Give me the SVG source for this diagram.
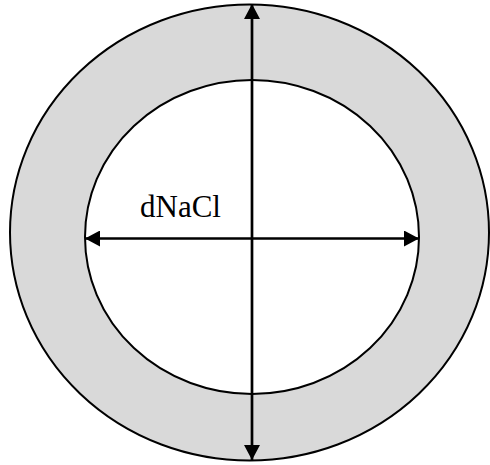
<svg xmlns="http://www.w3.org/2000/svg" width="490" height="465" viewBox="0 0 490 465">
<style>
.ring{stroke:#000;stroke-width:2}
.line{stroke:#000;stroke-width:2.7;fill:none}
.lbl{font-family:"Liberation Serif","Times New Roman",serif;font-size:31px;fill:#000}
</style>
<defs>
<marker id="ah" viewBox="0 0 15 16" refX="15" refY="8" markerWidth="15" markerHeight="16" markerUnits="userSpaceOnUse" orient="auto-start-reverse">
<path d="M0,0 L15,8 L0,16 Z" fill="#000"/>
</marker>
</defs>
<rect width="490" height="465" fill="#fff"/>
<g id="outer"><ellipse class="ring" cx="249.5" cy="232.5" rx="239.5" ry="228" fill="#d9d9d9"/></g>
<g id="inner"><ellipse class="ring" cx="252" cy="237" rx="167" ry="157" fill="#fff"/></g>
<g id="connectors">
<line class="line" x1="252" y1="4" x2="252" y2="460" marker-start="url(#ah)" marker-end="url(#ah)"/>
<line class="line" x1="85" y1="238.5" x2="419" y2="238.5" marker-start="url(#ah)" marker-end="url(#ah)"/>
</g>
<g id="label"><text class="lbl" x="140" y="217">dNaCl</text></g>
</svg>
